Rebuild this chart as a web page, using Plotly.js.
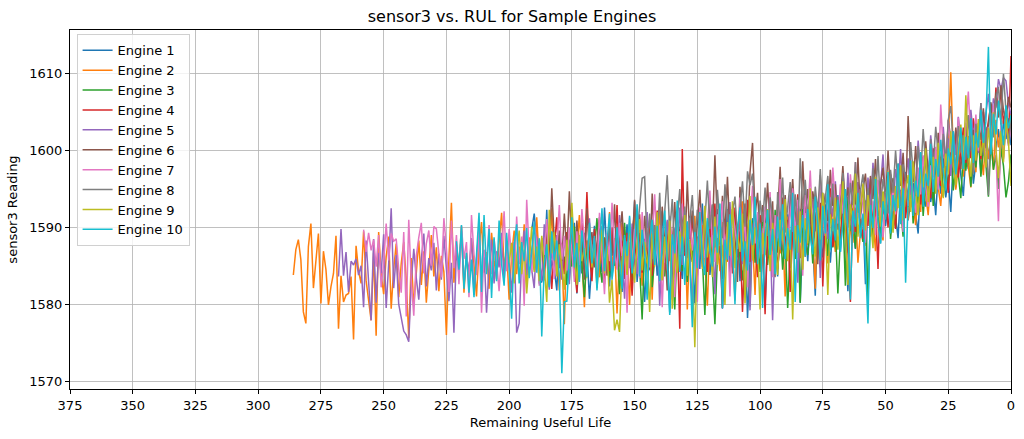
<!DOCTYPE html>
<html>
<head>
<meta charset="utf-8">
<script src="https://cdn.plot.ly/plotly-3.0.1.min.js"></script>
<style>
  html, body { margin: 0; padding: 0; background: #fff; }
  #chart { width: 1024px; height: 439px; }
</style>
</head>
<body>
<div id="chart"></div>
<script>
// sensor3 readings per engine, first cycle to last (RUL counts down to 0)
const engine1 = [
  1589.7,1591.8,1588.0,1582.8,1582.9,1584.5,1592.3,1582.6,1585.7,1584.6,
  1581.8,1589.0,1586.3,1588.7,1585.4,1583.1,1587.9,1590.6,1581.4,1586.2,
  1584.0,1589.3,1586.9,1580.7,1585.6,1590.2,1583.5,1587.8,1584.2,1592.6,
  1586.4,1582.3,1588.5,1585.1,1589.7,1583.9,1581.6,1587.2,1590.4,1584.8,
  1586.7,1593.4,1582.9,1588.1,1585.5,1580.3,1587.6,1591.0,1584.4,1589.2,
  1583.7,1586.8,1592.1,1585.0,1588.4,1578.9,1587.5,1584.9,1590.8,1586.1,
  1583.3,1589.9,1585.7,1591.5,1587.0,1580.1,1588.8,1584.6,1593.1,1586.5,
  1589.4,1583.8,1587.3,1590.9,1585.2,1588.0,1579.4,1586.9,1592.4,1584.1,
  1588.6,1586.0,1590.3,1583.0,1587.7,1589.8,1578.2,1585.8,1591.2,1587.4,
  1584.3,1590.0,1586.6,1579.8,1589.1,1593.6,1585.3,1588.2,1583.6,1590.7,
  1587.1,1585.9,1591.7,1584.7,1589.5,1586.3,1592.8,1580.2,1588.9,1590.5,
  1585.6,1591.3,1587.8,1581.1,1592.2,1588.3,1586.1,1593.0,1589.6,1585.4,
  1590.1,1587.6,1594.2,1586.8,1591.9,1589.0,1581.7,1592.5,1590.4,1587.2,
  1593.5,1589.3,1591.6,1582.6,1595.1,1590.8,1588.7,1593.8,1591.1,1587.9,
  1594.6,1590.2,1592.9,1589.5,1596.0,1591.4,1588.6,1594.9,1592.3,1597.2,
  1590.9,1593.7,1595.8,1591.8,1589.2,1596.6,1594.0,1592.7,1598.1,1593.3,
  1595.5,1591.6,1597.4,1594.4,1599.0,1593.9,1596.3,1592.0,1598.7,1595.2,
  1600.3,1596.8,1594.1,1599.5,1597.6,1601.2,1595.7,1598.4,1602.0,1597.0,
  1599.8,1603.1,1598.9,1601.7,1604.6,1600.1,1602.8,1599.3,1603.9,1601.5,
  1604.2,1600.7
];
const engine2 = [
  1583.8,1587.1,1588.4,1585.8,1579.0,1577.5,1587.5,1590.5,1582.1,1585.8,
  1589.2,1580.1,1586.9,1584.5,1579.9,1582.3,1584.0,1588.9,1576.8,1583.7,
  1580.3,1581.2,1581.4,1583.6,1575.4,1587.6,1584.3,1582.7,1589.5,1583.1,
  1580.8,1577.9,1586.7,1575.9,1589.4,1584.0,1581.3,1586.2,1588.8,1579.4,
  1584.6,1587.9,1580.9,1585.3,1588.1,1583.2,1575.6,1586.0,1579.8,1584.7,
  1588.3,1582.5,1586.9,1580.2,1585.1,1589.0,1583.6,1587.4,1581.7,1586.3,
  1584.2,1576.0,1585.9,1593.2,1582.8,1587.7,1584.9,1590.1,1581.5,1586.6,
  1583.4,1588.5,1585.2,1581.0,1587.3,1590.7,1584.1,1586.8,1582.0,1589.3,
  1585.7,1583.3,1588.0,1591.9,1584.8,1587.1,1580.6,1586.4,1589.6,1583.9,
  1587.5,1585.0,1590.4,1582.6,1588.7,1586.2,1584.4,1591.3,1585.5,1588.2,
  1583.1,1589.8,1586.0,1592.5,1584.3,1587.9,1581.8,1586.6,1577.4,1588.9,
  1585.4,1590.9,1583.7,1587.2,1591.6,1585.9,1579.6,1588.3,1586.7,1584.0,
  1589.1,1586.1,1583.5,1590.2,1587.6,1585.1,1592.0,1584.5,1588.6,1578.8,
  1586.5,1590.6,1584.8,1587.0,1579.9,1589.4,1591.8,1585.8,1588.1,1582.4,
  1587.8,1585.3,1590.0,1580.6,1589.7,1586.9,1592.6,1584.2,1587.4,1590.8,
  1585.6,1588.8,1583.4,1591.1,1587.0,1585.2,1589.9,1579.3,1588.4,1586.3,
  1591.5,1584.7,1587.7,1590.3,1585.9,1579.8,1589.2,1592.9,1586.4,1588.6,
  1584.3,1590.7,1587.3,1585.5,1591.9,1588.0,1580.5,1589.5,1586.8,1593.4,
  1587.9,1585.0,1590.5,1588.4,1581.2,1591.7,1589.0,1586.2,1592.3,1587.5,
  1590.1,1585.7,1588.9,1593.0,1586.6,1589.8,1581.0,1591.4,1587.1,1590.6,
  1588.5,1592.7,1586.0,1590.0,1594.1,1587.7,1591.2,1589.1,1582.0,1592.1,
  1587.4,1591.6,1588.9,1585.3,1592.8,1589.6,1586.8,1593.3,1588.3,1590.9,
  1593.2,1586.7,1590.1,1588.0,1592.6,1585.4,1589.4,1591.5,1587.6,1594.0,
  1588.8,1591.2,1586.9,1593.4,1590.0,1588.3,1595.0,1591.9,1589.2,1593.8,
  1590.6,1596.1,1592.4,1589.7,1594.7,1591.0,1597.2,1593.1,1590.3,1595.5,
  1592.0,1598.0,1594.3,1591.6,1596.6,1593.6,1599.1,1595.2,1592.8,1597.7,
  1595.9,1601.4,1610.2,1599.5,1594.9,1597.9,1602.1,1596.6,1600.6,1598.0,
  1595.2,1601.0,1597.2,1603.2,1599.8,1596.8,1602.5,1598.9,1601.7,1597.5,
  1604.0,1600.4,1602.8,1599.1,1603.7,1601.3,1605.1
];
const engine3 = [
  1586.2,1582.5,1588.4,1584.9,1590.1,1583.2,1587.6,1585.3,1580.9,1586.8,
  1589.5,1584.0,1587.1,1591.2,1585.6,1582.8,1588.7,1586.4,1583.5,1589.9,
  1585.0,1587.8,1581.3,1586.5,1590.6,1584.4,1588.1,1583.0,1586.9,1592.0,
  1584.7,1578.0,1587.3,1585.8,1589.3,1582.2,1586.0,1590.8,1584.1,1588.6,
  1583.6,1587.0,1591.4,1585.2,1579.3,1588.2,1586.6,1584.3,1590.3,1582.9,
  1587.4,1585.5,1589.7,1583.8,1588.9,1586.1,1578.6,1587.7,1591.6,1584.6,
  1577.4,1586.3,1589.1,1583.3,1588.0,1585.7,1592.5,1584.8,1587.2,1590.2,
  1586.0,1583.1,1589.4,1587.5,1579.7,1590.9,1585.4,1588.3,1584.2,1591.8,
  1587.9,1585.1,1589.0,1583.7,1592.3,1586.7,1590.5,1584.5,1588.8,1579.5,
  1587.0,1591.3,1585.9,1589.6,1580.2,1592.8,1588.2,1586.4,1590.7,1585.3,
  1591.9,1588.5,1584.8,1592.4,1589.8,1586.3,1593.7,1587.4,1590.4,1581.4,
  1588.6,1592.2,1582.4,1594.0,1589.5,1591.1,1587.3,1595.2,1590.0,1588.1,
  1593.4,1580.6,1591.7,1589.2,1596.0,1592.6,1588.9,1594.6,1591.0,1597.1,
  1588.5,1592.3,1590.0,1596.2,1591.9,1588.8,1594.5,1592.7,1597.0,1590.5,
  1595.5,1593.1,1598.1,1591.5,1596.1,1594.2,1599.3,1592.8,1597.4,1595.3,
  1599.2,1594.0,1597.6,1595.6,1600.1,1594.8,1598.8,1596.9,1593.8,1599.7,
  1597.4,1601.0,1595.3,1599.9,1597.8,1602.1,1596.6,1600.6,1598.2,1594.0,
  1601.3,1597.5,1599.4,1595.0,1600.2,1598.0,1593.9,1596.0,1599.5
];
const engine4 = [
  1585.1,1588.6,1583.4,1590.2,1586.8,1582.0,1587.5,1591.3,1584.7,1588.0,
  1583.9,1589.4,1586.2,1592.4,1585.0,1581.5,1587.9,1590.6,1585.6,1594.6,
  1586.5,1583.0,1589.8,1585.4,1591.0,1587.1,1582.6,1588.8,1584.3,1590.0,
  1586.0,1592.9,1584.9,1588.3,1583.3,1589.3,1586.6,1581.1,1587.6,1585.7,
  1591.7,1584.1,1588.5,1586.4,1590.8,1583.7,1587.2,1592.2,1585.2,1589.0,
  1584.5,1587.8,1590.4,1585.9,1583.1,1588.9,1576.8,1600.2,1586.3,1589.6,
  1585.3,1591.4,1587.4,1583.6,1592.0,1586.7,1589.7,1584.2,1590.3,1587.0,
  1593.1,1585.8,1588.7,1579.5,1591.1,1587.3,1589.9,1584.0,1592.6,1586.1,
  1589.5,1579.0,1587.7,1593.6,1585.5,1590.5,1588.1,1583.5,1591.6,1587.6,
  1578.7,1589.2,1592.3,1586.9,1590.7,1584.6,1588.4,1593.9,1587.1,1591.0,
  1581.6,1589.9,1587.9,1594.3,1588.6,1591.5,1586.2,1590.1,1592.8,1587.8,
  1590.9,1588.2,1593.2,1582.3,1591.8,1589.1,1595.1,1587.5,1590.4,1592.5,
  1588.0,1594.0,1590.6,1586.8,1580.3,1592.7,1589.4,1595.6,1591.3,1588.5,
  1593.5,1590.2,1596.3,1589.7,1592.9,1584.6,1595.3,1591.7,1594.4,1590.0,
  1596.9,1592.3,1589.8,1595.9,1593.3,1597.5,1591.2,1594.8,1592.6,1598.3,
  1594.1,1596.4,1593.0,1599.2,1595.0,1597.9,1593.8,1600.3,1596.2,1598.7,
  1595.4,1601.1,1597.7,1594.5,1600.0,1598.1,1602.4,1596.5,1599.6,1603.0,
  1598.4,1601.9,1599.0,1604.2,1600.9,1602.8,1598.9,1605.0,1601.6,1603.8,
  1606.1,1602.3,1608.2,1604.6,1607.9,1603.5,1605.8,1601.0,1612.3
];
const engine5 = [
  1583.6,1589.8,1583.7,1586.8,1581.6,1585.6,1585.1,1585.9,1583.8,1585.0,
  1579.6,1588.3,1582.9,1577.9,1588.5,1580.2,1586.7,1584.0,1589.1,1579.5,
  1585.3,1592.5,1582.1,1586.4,1580.0,1578.4,1576.5,1576.0,1575.1,1583.0,
  1587.2,1583.4,1580.6,1585.9,1589.2,1582.3,1586.0,1584.4,1588.0,1581.8,
  1586.6,1583.2,1588.9,1584.6,1580.4,1585.4,1576.3,1587.4,1583.9,1589.5,
  1582.4,1586.3,1584.2,1588.6,1581.2,1585.8,1590.0,1583.5,1587.0,1578.9,
  1585.0,1588.4,1582.7,1586.9,1584.8,1589.3,1583.0,1587.9,1585.3,1581.5,
  1588.1,1576.3,1577.5,1586.1,1589.6,1583.8,1587.6,1584.5,1582.1,1588.8,
  1585.6,1583.1,1590.4,1586.4,1581.9,1587.3,1584.1,1589.0,1585.9,1583.2,
  1588.5,1586.2,1582.6,1590.8,1584.9,1587.8,1583.4,1589.7,1586.0,1584.3,
  1591.2,1585.5,1588.3,1582.9,1587.0,1590.1,1584.0,1586.8,1589.4,1583.6,
  1587.5,1585.0,1591.6,1586.5,1580.7,1588.2,1584.7,1590.5,1586.3,1583.9,
  1589.0,1585.8,1587.4,1592.0,1584.4,1588.6,1586.1,1590.2,1579.8,1587.8,
  1585.4,1591.0,1587.2,1580.6,1589.9,1586.7,1592.6,1585.1,1588.4,1590.6,
  1586.0,1580.0,1589.1,1587.0,1591.8,1584.8,1588.0,1590.9,1586.5,1589.5,
  1581.3,1592.4,1587.6,1590.0,1585.7,1588.7,1593.3,1586.9,1589.8,1587.3,
  1591.4,1585.2,1590.3,1588.1,1579.2,1589.6,1592.1,1586.4,1590.7,1588.0,
  1586.6,1591.9,1589.2,1577.9,1588.6,1593.0,1587.1,1590.5,1592.7,1588.3,
  1594.3,1589.4,1591.5,1582.8,1592.4,1590.0,1595.2,1588.2,1591.0,1593.6,
  1589.5,1592.8,1583.4,1594.5,1590.4,1588.5,1593.9,1591.4,1596.0,1589.9,
  1592.2,1594.8,1590.6,1597.1,1591.6,1589.1,1593.5,1595.9,1591.1,1594.1,
  1590.3,1596.5,1592.6,1598.4,1593.0,1591.3,1595.4,1599.5,1592.9,1596.9,
  1594.6,1592.1,1597.6,1595.1,1600.2,1593.4,1596.2,1599.0,1594.2,1597.4,
  1595.8,1601.3,1597.0,1594.0,1599.8,1596.4,1602.0,1598.2,1595.3,1600.5,
  1597.3,1603.1,1598.8,1601.6,1596.7,1602.5,1599.4,1604.4,1600.8,1598.1,
  1603.6,1600.1,1605.3,1601.9,1604.0,1599.7,1606.2,1602.7,1604.9,1607.4,
  1603.0,1606.8,1605.6,1609.3,1608.0,1609.5,1609.1,1606.0,1604.7
];
const engine6 = [
  1587.3,1584.6,1590.4,1586.0,1595.1,1588.2,1583.9,1589.6,1585.7,1591.8,
  1586.4,1594.7,1587.5,1584.3,1590.9,1585.6,1588.8,1583.2,1592.5,1586.9,
  1589.4,1584.8,1587.9,1591.3,1585.3,1588.6,1583.7,1590.0,1586.3,1593.0,
  1585.0,1588.9,1592.1,1586.6,1584.0,1590.6,1587.3,1593.6,1585.8,1589.3,
  1586.1,1591.5,1588.4,1584.5,1594.4,1587.0,1590.2,1585.5,1592.7,1588.1,
  1581.8,1590.8,1587.6,1593.3,1586.2,1589.7,1591.9,1586.8,1596.0,1588.5,
  1592.2,1587.1,1590.5,1594.9,1588.0,1591.2,1586.5,1593.8,1589.0,1599.4,
  1590.3,1587.8,1594.1,1589.2,1596.6,1588.7,1592.4,1590.0,1582.9,1595.3,
  1589.8,1593.1,1588.1,1597.2,1601.0,1591.6,1594.5,1588.9,1592.9,1590.6,
  1595.8,1589.6,1593.4,1583.6,1591.7,1597.9,1590.1,1594.2,1588.4,1592.0,
  1596.3,1590.7,1593.9,1589.1,1598.6,1591.9,1595.0,1590.4,1594.7,1592.3,
  1585.2,1596.8,1591.4,1594.4,1590.8,1597.5,1592.8,1595.6,1589.7,1593.5,
  1598.0,1592.6,1595.2,1590.9,1596.1,1593.0,1599.1,1591.8,1594.9,1597.0,
  1592.1,1596.7,1593.7,1598.9,1591.5,1595.5,1597.8,1593.2,1600.0,1594.3,
  1596.4,1592.8,1598.3,1595.4,1599.7,1593.6,1604.5,1597.1,1595.9,1600.6,
  1594.5,1598.7,1596.0,1601.2,1597.4,1595.1,1599.3,1596.9,1602.3,1598.0,
  1600.2,1596.6,1604.0,1601.5,1598.4,1603.0,1599.6,1597.6,1602.0,1600.4,
  1604.6,1599.9,1602.7,1598.6,1603.6,1601.4,1605.5,1600.3,1603.3,1606.3,
  1602.5,1607.6,1604.3,1608.5,1605.2,1603.9,1607.0,1605.6
];
const engine7 = [
  1589.7,1586.8,1589.3,1587.0,1588.4,1584.9,1589.0,1582.2,1585.3,1590.5,
  1585.7,1589.2,1588.2,1588.5,1584.6,1581.5,1589.4,1578.4,1591.0,1583.0,
  1578.5,1586.3,1588.7,1590.6,1584.0,1587.9,1589.6,1585.0,1590.1,1589.8,
  1586.6,1583.5,1591.2,1587.3,1581.6,1590.9,1584.7,1589.0,1582.6,1590.2,
  1585.9,1588.1,1580.9,1591.6,1586.5,1583.8,1589.6,1578.9,1587.1,1585.4,
  1590.3,1583.9,1588.5,1585.6,1581.7,1587.6,1592.1,1584.3,1589.8,1586.1,
  1583.0,1591.4,1585.2,1588.8,1579.8,1593.6,1586.8,1584.1,1590.7,1587.7,
  1582.4,1588.0,1586.4,1591.1,1584.2,1589.3,1583.3,1587.3,1592.9,1585.8,
  1588.9,1584.4,1590.0,1586.9,1582.9,1589.5,1585.1,1592.4,1587.5,1583.6,
  1590.4,1586.2,1588.6,1584.0,1591.9,1587.2,1581.3,1589.1,1585.6,1593.2,
  1587.0,1584.5,1590.6,1586.3,1588.3,1578.9,1591.3,1585.3,1589.8,1587.4,
  1583.4,1592.0,1586.0,1589.9,1584.8,1588.6,1594.3,1586.6,1590.3,1579.6,
  1588.2,1585.2,1591.5,1587.8,1580.9,1590.9,1586.4,1593.1,1588.8,1585.0,
  1591.2,1587.0,1589.5,1580.3,1592.6,1588.1,1586.0,1590.4,1594.8,1587.6,
  1585.5,1591.7,1588.5,1593.4,1586.9,1590.1,1581.0,1592.3,1589.4,1587.2,
  1593.9,1588.3,1591.0,1582.2,1590.6,1595.4,1587.9,1592.0,1589.0,1586.5,
  1592.7,1589.7,1594.6,1583.5,1591.6,1588.6,1596.3,1590.0,1593.2,1588.0,
  1591.9,1595.1,1589.1,1593.6,1590.8,1583.7,1594.2,1591.4,1597.4,1589.9,
  1593.0,1590.3,1596.0,1592.2,1588.9,1594.9,1591.1,1597.8,1592.7,1590.5,
  1595.6,1591.8,1594.1,1589.6,1596.9,1592.5,1598.5,1591.3,1595.0,1593.3,
  1588.0,1594.3,1590.8,1593.4,1589.0,1596.2,1591.4,1588.7,1594.6,1592.3,
  1590.1,1595.8,1591.7,1597.4,1593.6,1589.4,1596.0,1592.8,1598.6,1594.0,
  1591.9,1597.8,1594.3,1599.4,1595.3,1592.7,1598.1,1596.5,1600.5,1594.9,
  1606.0,1600.1,1598.0,1603.8,1599.8,1602.0,1596.5,1604.3,1600.7,1598.6,
  1603.4,1607.7,1601.2,1599.3,1604.7,1600.0,1605.4,1602.6,1598.2,1603.1,
  1601.5,1605.9,1599.7,1590.8,1603.6,1598.9,1604.1,1600.6,1602.9
];
const engine8 = [
  1589.0,1593.1,1596.4,1596.6,1587.5,1591.8,1585.9,1590.3,1588.2,1594.5,
  1586.6,1592.0,1596.8,1589.4,1593.7,1587.1,1591.5,1595.0,1588.5,1592.7,
  1586.0,1590.9,1594.2,1588.0,1592.3,1589.5,1585.3,1591.2,1596.1,1589.8,
  1593.0,1587.4,1594.9,1590.6,1588.6,1595.6,1592.2,1587.8,1591.9,1594.0,
  1589.1,1592.9,1596.0,1590.1,1597.3,1595.5,1597.0,1591.4,1588.4,1593.5,
  1590.7,1595.2,1588.9,1593.9,1591.0,1583.5,1594.6,1590.4,1596.5,1589.3,
  1592.6,1595.9,1590.2,1594.3,1588.1,1599.0,1592.4,1596.2,1591.3,1594.1,
  1589.7,1595.3,1592.0,1597.6,1590.9,1593.6,1596.7,1591.6,1595.7,1589.2,
  1594.0,1591.1,1597.1,1593.3,1590.0,1595.8,1592.9,1598.5,1591.9,1594.8,
  1596.9,1592.3,1595.1,1590.5,1597.7,1593.8,1599.3,1592.6,1596.3,1594.2,
  1591.8,1597.5,1594.5,1600.0,1595.6,1592.8,1598.2,1596.4,1593.5,1601.1,
  1597.2,1594.7,1600.6,1596.6,1602.8,1598.0,1595.2,1601.5,1597.9,1603.1,
  1599.4,1596.1,1602.2,1598.4,1604.0,1605.8,1600.5,1597.4,1603.2,1599.8,
  1602.0,1598.8,1604.6,1600.9,1597.0,1603.5,1601.3,1606.2,1599.4,1602.7,
  1594.2,1604.9,1601.7,1606.8,1608.3,1603.4,1610.0,1605.1,1600.8,1603.9
];
const engine9 = [
  1585.4,1588.0,1582.7,1586.3,1589.6,1583.9,1587.1,1581.4,1585.8,1590.1,
  1584.2,1587.5,1583.0,1588.9,1585.0,1580.3,1592.3,1586.6,1589.4,1583.6,
  1587.8,1585.2,1581.9,1588.4,1584.6,1593.2,1586.9,1582.5,1589.0,1585.6,
  1587.3,1583.4,1590.2,1584.8,1588.2,1582.1,1586.4,1589.7,1584.0,1587.6,
  1580.2,1583.2,1576.6,1578.0,1576.4,1585.5,1588.6,1583.8,1590.5,1585.9,
  1582.8,1587.7,1591.1,1584.4,1588.1,1586.0,1579.0,1589.2,1584.9,1592.0,
  1586.2,1583.1,1588.8,1585.3,1590.9,1579.4,1587.0,1584.1,1589.5,1586.5,
  1591.6,1583.7,1588.3,1585.8,1574.4,1587.2,1590.3,1584.6,1592.8,1586.1,
  1588.7,1583.5,1591.4,1585.1,1589.8,1587.4,1579.9,1590.7,1586.3,1593.4,
  1584.7,1589.1,1586.8,1591.8,1580.1,1588.5,1594.1,1585.7,1590.0,1587.8,
  1579.3,1589.3,1586.4,1592.4,1584.3,1590.6,1587.6,1583.8,1591.0,1588.2,
  1593.7,1585.6,1589.7,1578.0,1590.2,1586.7,1592.1,1584.5,1591.2,1587.9,
  1595.1,1589.0,1586.2,1592.6,1588.4,1594.5,1590.4,1581.2,1591.7,1589.5,
  1593.9,1587.1,1591.5,1596.0,1589.9,1582.5,1593.0,1590.8,1597.0,1588.8,
  1592.2,1595.7,1589.6,1594.2,1591.1,1587.3,1596.6,1592.9,1590.1,1594.7,
  1591.4,1597.3,1593.6,1589.3,1595.4,1592.5,1598.1,1590.9,1594.6,1596.8,
  1592.0,1598.6,1594.9,1591.6,1597.6,1595.2,1600.3,1593.3,1596.3,1599.2,
  1594.4,1601.0,1597.2,1593.8,1599.6,1596.9,1602.5,1598.1,1595.5,1600.4,
  1603.4,1597.5,1607.2,1600.0,1596.6,1602.0,1598.7,1604.1,1599.3,1601.7,
  1597.8,1603.0,1599.9,1605.0,1600.2,1596.4,1602.6,1598.5,1604.3,1601.1,
  1595.4
];
const engine10 = [
  1588.2,1584.5,1590.3,1582.0,1586.7,1581.5,1585.8,1580.9,1586.4,1591.9,
  1581.6,1591.6,1583.9,1589.8,1580.8,1588.7,1583.0,1590.9,1585.2,1582.4,
  1589.3,1584.6,1578.1,1587.5,1590.4,1582.7,1588.1,1585.6,1589.9,1583.4,
  1586.9,1590.7,1584.1,1588.6,1575.8,1585.0,1587.8,1582.2,1589.5,1585.7,
  1588.3,1583.7,1571.0,1580.3,1580.4,1586.2,1591.3,1584.8,1588.0,1582.9,
  1589.6,1586.5,1583.5,1590.6,1585.3,1588.9,1581.8,1587.2,1592.5,1584.3,
  1588.4,1591.8,1583.2,1586.0,1590.0,1585.5,1582.0,1589.0,1586.3,1591.5,
  1584.0,1587.6,1593.0,1583.6,1589.7,1586.8,1580.6,1588.5,1591.0,1585.1,
  1590.2,1583.0,1587.9,1592.2,1585.9,1578.6,1589.1,1586.6,1593.5,1584.2,
  1588.8,1582.5,1590.8,1585.4,1577.0,1589.4,1584.7,1592.0,1586.1,1583.8,
  1591.2,1587.3,1584.9,1590.1,1586.7,1593.1,1579.5,1588.4,1585.8,1591.7,
  1587.0,1580.0,1589.6,1592.6,1585.6,1588.2,1584.4,1591.0,1587.7,1594.0,
  1585.2,1590.5,1579.5,1588.6,1592.3,1586.4,1589.8,1583.9,1591.4,1587.5,
  1593.0,1585.9,1589.9,1587.1,1594.5,1580.3,1590.3,1588.0,1591.6,1586.2,
  1592.4,1588.9,1586.5,1594.0,1590.6,1585.7,1592.8,1589.2,1595.6,1587.0,
  1591.1,1588.3,1593.6,1586.8,1590.9,1595.0,1589.4,1580.6,1592.2,1590.1,
  1594.5,1588.6,1591.8,1585.6,1577.5,1592.9,1589.9,1596.3,1590.8,1587.9,
  1593.4,1591.0,1597.2,1589.2,1594.2,1592.1,1598.3,1590.4,1595.1,1582.8,
  1593.6,1598.7,1591.5,1596.1,1594.0,1599.8,1592.7,1597.0,1595.4,1600.9,
  1594.6,1598.9,1596.6,1601.4,1597.3,1594.8,1600.3,1598.2,1602.5,1596.9,
  1599.6,1603.0,1597.6,1601.8,1599.0,1604.2,1598.4,1602.3,1600.4,1605.3,
  1601.0,1603.8,1613.5,1599.5,1604.8,1602.1,1606.5,1603.3,1600.7,1605.9,
  1602.9,1604.6
];

const engines = [engine1, engine2, engine3, engine4, engine5, engine6, engine7, engine8, engine9, engine10];
const names = ['Engine 1','Engine 2','Engine 3','Engine 4','Engine 5','Engine 6','Engine 7','Engine 8','Engine 9','Engine 10'];
const colors = ['#1f77b4','#ff7f0e','#2ca02c','#d62728','#9467bd','#8c564b','#e377c2','#7f7f7f','#bcbd22','#17becf'];
const xTicks = [375, 350, 325, 300, 275, 250, 225, 200, 175, 150, 125, 100, 75, 50, 25, 0];
const yTicks = [1570, 1580, 1590, 1600, 1610];

// RUL = cycles left before failure, last reading is RUL 0
const traces = engines.map((vals, k) => ({
    x: vals.map((v, i) => vals.length - 1 - i),
    y: vals,
    type: 'scatter',
    mode: 'lines',
    name: names[k],
    line: { color: colors[k], width: 1.5 }
}));

const font = 'DejaVu Sans, sans-serif';
Plotly.newPlot('chart', traces, {
    width: 1024, height: 439,
    margin: { l: 70, r: 13, t: 30, b: 50 },
    paper_bgcolor: '#fff', plot_bgcolor: '#fff',
    font: { family: font, size: 13, color: '#000' },
    title: { text: 'sensor3 vs. RUL for Sample Engines', font: { size: 16 }, x: 0.5, xanchor: 'center', y: 0.975, yanchor: 'top' },
    xaxis: {
        range: [375, 0], tickvals: xTicks, ticktext: xTicks.map(String),
        showgrid: true, gridcolor: '#b0b0b0', gridwidth: 0.8,
        showline: true, linecolor: '#000', linewidth: 1, mirror: true,
        ticks: 'outside', ticklen: 4, tickcolor: '#000', zeroline: false,
        title: { text: 'Remaining Useful Life', font: { size: 13 }, standoff: 6 }
    },
    yaxis: {
        range: [1568.96, 1615.7], tickvals: yTicks,
        showgrid: true, gridcolor: '#b0b0b0', gridwidth: 0.8,
        showline: true, linecolor: '#000', linewidth: 1, mirror: true,
        ticks: 'outside', ticklen: 4, tickcolor: '#000', zeroline: false,
        title: { text: 'sensor3 Reading', font: { size: 13 }, standoff: 8 }
    },
    legend: {
        x: 0.007, y: 0.988, xanchor: 'left', yanchor: 'top',
        bgcolor: 'rgba(255,255,255,0.8)', bordercolor: '#d0d0d0', borderwidth: 1,
        font: { size: 13 }, tracegroupgap: 0
    },
    showlegend: true
}, { displayModeBar: false, staticPlot: true });
</script>
</body>
</html>
